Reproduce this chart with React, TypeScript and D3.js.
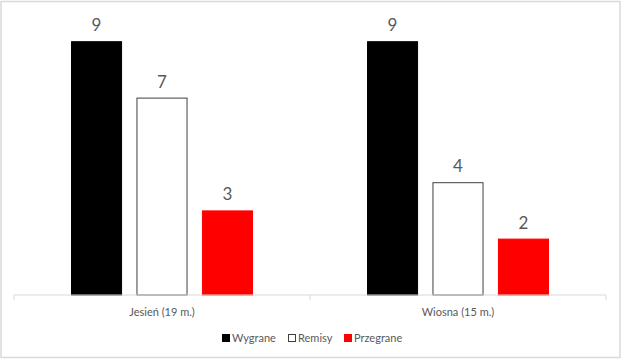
import React, { useEffect, useRef } from 'react';
import * as d3 from 'd3';

const categories = ['Jesień (19 m.)', 'Wiosna (15 m.)'];
const seriesNames = ['Wygrane', 'Remisy', 'Przegrane'];
const wygrane = [9, 9];
const remisy = [7, 4];
const przegrane = [3, 2];

const seriesFill = ['#000000', '#ffffff', '#ff0000'];
const seriesStroke = ['#000000', '#404040', '#ff0000'];

const App: React.FC = () => {
  const svgRef = useRef<SVGSVGElement | null>(null);

  useEffect(() => {
    if (!svgRef.current) return;
    const width = 622;
    const height = 360;
    const font = 'Lato, "Open Sans", sans-serif';
    const values = [wygrane, remisy, przegrane];

    const svg = d3.select(svgRef.current);
    svg.selectAll('*').remove();
    svg.attr('width', width).attr('height', height);

    // outer border
    svg
      .append('rect')
      .attr('x', 1)
      .attr('y', 1.5)
      .attr('width', 619)
      .attr('height', 356)
      .attr('fill', '#fff')
      .attr('stroke', '#d9d9d9')
      .attr('stroke-width', 1.5);

    const x0 = d3.scaleBand().domain(categories).range([14, 606]);
    const x1 = d3
      .scaleBand()
      .domain(seriesNames)
      .range([57, 239])
      .paddingInner(0.22);
    const y = d3.scaleLinear().domain([0, 10]).range([295, 13]);

    const groups = svg
      .selectAll('g.cat')
      .data(categories)
      .enter()
      .append('g')
      .attr('class', 'cat')
      .attr('transform', (d) => `translate(${x0(d)},0)`);

    seriesNames.forEach((s, si) => {
      groups
        .append('rect')
        .attr('x', x1(s)! + 0.5)
        .attr('y', (_, i) => y(values[si][i]) + 0.5)
        .attr('width', x1.bandwidth() - 1)
        .attr('height', (_, i) => y(0) - y(values[si][i]) - 0.5)
        .attr('fill', seriesFill[si])
        .attr('stroke', seriesStroke[si])
        .attr('stroke-width', 1);

      groups
        .append('text')
        .attr('x', x1(s)! + x1.bandwidth() / 2)
        .attr('y', (_, i) => y(values[si][i]) - 10)
        .attr('text-anchor', 'middle')
        .attr('font-family', font)
        .attr('font-size', 17)
        .attr('fill', '#595959')
        .text((_, i) => values[si][i]);
    });

    // category axis
    const axis = svg.append('g').attr('transform', `translate(0,${y(0)})`);
    axis
      .append('line')
      .attr('x1', 14)
      .attr('x2', 606)
      .attr('stroke', '#d9d9d9');
    const ticks = [14, ...categories.map((c) => x0(c)! + x0.bandwidth())];
    axis
      .selectAll('line.tick')
      .data(ticks)
      .enter()
      .append('line')
      .attr('class', 'tick')
      .attr('x1', (d) => d)
      .attr('x2', (d) => d)
      .attr('y1', 0)
      .attr('y2', 5)
      .attr('stroke', '#d9d9d9');
    axis
      .selectAll('text')
      .data(categories)
      .enter()
      .append('text')
      .attr('x', (d) => x0(d)! + x0.bandwidth() / 2)
      .attr('y', 21)
      .attr('text-anchor', 'middle')
      .attr('font-family', font)
      .attr('font-size', 11)
      .attr('fill', '#595959')
      .text((d) => d);

    // legend
    const legendX = [222, 288, 344];
    const legend = svg
      .selectAll('g.legend')
      .data(seriesNames)
      .enter()
      .append('g')
      .attr('class', 'legend')
      .attr('transform', (_, i) => `translate(${legendX[i]},338)`);
    legend
      .append('rect')
      .attr('x', 0.5)
      .attr('y', -3.5)
      .attr('width', 7)
      .attr('height', 7)
      .attr('fill', (_, i) => seriesFill[i])
      .attr('stroke', (_, i) => seriesStroke[i]);
    legend
      .append('text')
      .attr('x', 10)
      .attr('y', 4)
      .attr('font-family', font)
      .attr('font-size', 11)
      .attr('fill', '#595959')
      .text((d) => d);
  }, []);

  return (
    <div style={{ position: 'absolute', left: 0, top: 0 }}>
      <svg ref={svgRef}></svg>
    </div>
  );
};

export default App;
